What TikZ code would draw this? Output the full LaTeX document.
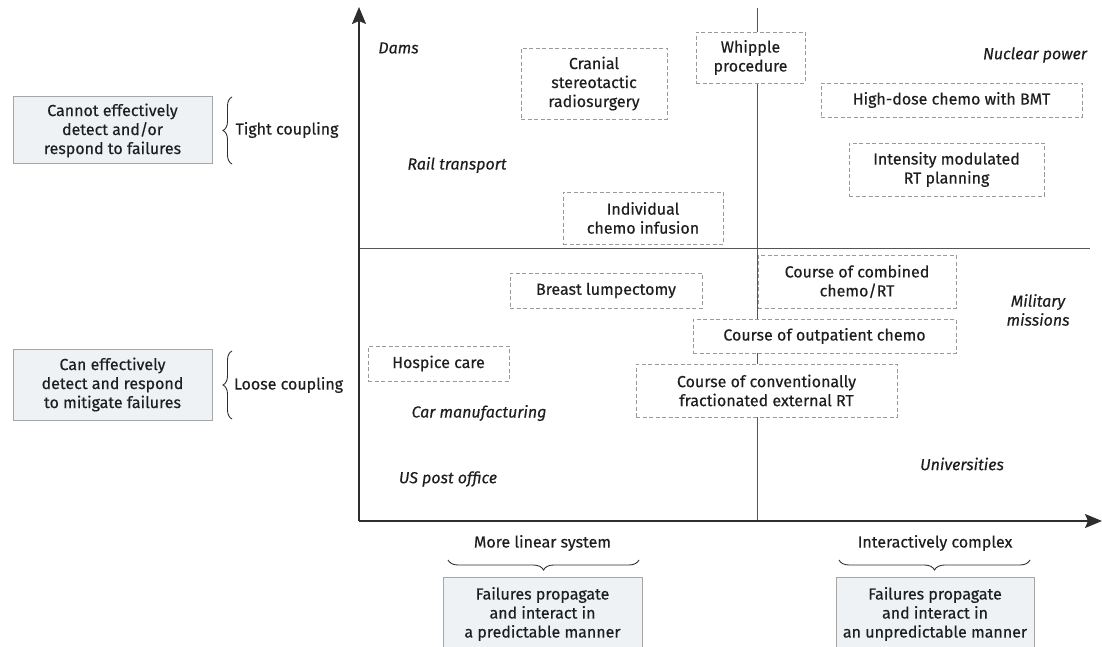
\documentclass[tikz,border=0pt]{standalone}
\usepackage{fontspec}
\setmainfont{Fira Sans}[FakeBold=0.35]
\usetikzlibrary{arrows.meta,decorations.pathreplacing}
\definecolor{axisc}{HTML}{2E2E2E}
\definecolor{divc}{HTML}{555555}
\definecolor{dashc}{HTML}{9A9A9A}
\definecolor{gboxc}{HTML}{A6A6A6}
\definecolor{gfill}{HTML}{EEF2F5}
\definecolor{txtc}{HTML}{1E1E1E}
\begin{document}
\begin{tikzpicture}[x=1pt,y=-1pt,
  every node/.style={text=txtc},
  base/.style={font=\fontsize{16}{19}\selectfont, inner sep=0pt, align=center},
  txt/.style={base},
  lab/.style={base, font=\fontsize{16}{19}\selectfont\itshape},
  dbox/.style={base, draw=dashc, dash pattern=on 4pt off 2.5pt, line width=0.9pt, fill=white},
  gbox/.style={base, draw=gboxc, line width=1pt, fill=gfill},
  axis/.style={draw=axisc, line width=1.6pt, -{Stealth[length=17pt,width=14pt,inset=3pt]}},
  divider/.style={draw=divc, line width=0.9pt},
  bracestyle/.style={draw=axisc, line width=0.9pt, decorate}
]
\useasboundingbox (0,0) rectangle (1102,647);

% axes and dividers
\coordinate (O) at (359,521);
\coordinate (ytip) at (359,7);
\coordinate (xtip) at (1102,521);
\coordinate (vtop) at (757.5,8);
\coordinate (vbot) at (757.5,521);
\coordinate (hl) at (359,248);
\coordinate (hr) at (1090,248);
\draw[divider] (vtop) -- (vbot);
\draw[divider] (hl) -- (hr);
\draw[axis] (O) -- (ytip);
\draw[axis] (O) -- (xtip);

% italic system labels
\node[lab] (dams) at (398.5,48) {Dams};
\node[lab] (nuclear) at (1035,55) {Nuclear power};
\node[lab] (rail) at (457,165) {Rail transport};
\node[lab] (military) at (1038,310) {Military\\missions};
\node[lab] (car) at (479,413) {Car manufacturing};
\node[lab] (post) at (448,479) {US post office};
\node[lab] (univ) at (962,464) {Universities};

% dashed procedure boxes
\node[dbox, minimum width=146pt, minimum height=71pt] (cranial) at (594,83.5) {Cranial\\stereotactic\\radiosurgery};
\node[dbox, minimum width=109pt, minimum height=51pt] (whipple) at (750.5,57.5) {Whipple\\procedure};
\node[dbox, minimum width=261pt, minimum height=34pt] (highdose) at (951.5,100) {High-dose chemo with BMT};
\node[dbox, minimum width=195pt, minimum height=53pt] (imrt) at (946.5,169.5) {Intensity modulated\\RT planning};
\node[dbox, minimum width=160pt, minimum height=52pt] (indiv) at (643,218) {Individual\\chemo infusion};
\node[dbox, minimum width=192pt, minimum height=35pt] (breast) at (606,290.5) {Breast lumpectomy};
\node[dbox, minimum width=198pt, minimum height=53pt] (combined) at (857,281.5) {Course of combined\\chemo/RT};
\node[dbox, minimum width=263pt, minimum height=34pt] (outpt) at (824.5,336) {Course of outpatient chemo};
\node[dbox, minimum width=261pt, minimum height=53pt] (conv) at (766.5,390.5) {Course of conventionally\\fractionated external RT};
\node[dbox, minimum width=141pt, minimum height=35pt] (hospice) at (438.5,363.5) {Hospice care};

% left side: coupling
\node[gbox, minimum width=199pt, minimum height=67pt] (cannot) at (112.5,130.5) {Cannot effectively\\detect and/or\\respond to failures};
\node[gbox, minimum width=199pt, minimum height=71pt] (can) at (112.5,384.5) {Can effectively\\detect and respond\\to mitigate failures};
\coordinate (tb1) at (232,164);
\coordinate (tb2) at (232,97);
\coordinate (lb1) at (232,419);
\coordinate (lb2) at (232,351);
\draw[bracestyle, decoration={brace, amplitude=9pt}] (tb1) -- (tb2);
\draw[bracestyle, decoration={brace, amplitude=9pt}] (lb1) -- (lb2);
\node[txt] (tight) at (287,130) {Tight coupling};
\node[txt] (loose) at (288.5,385) {Loose coupling};

% bottom: complexity
\node[txt] (linear) at (542.5,543) {More linear system};
\node[txt] (complex) at (935,543) {Interactively complex};
\coordinate (bl1) at (639,560);
\coordinate (bl2) at (448,560);
\coordinate (br1) at (1030,560);
\coordinate (br2) at (839,560);
\draw[bracestyle, decoration={brace, amplitude=10pt}] (bl1) -- (bl2);
\draw[bracestyle, decoration={brace, amplitude=10pt}] (br1) -- (br2);
\node[gbox, anchor=north, minimum width=199pt, minimum height=85pt] (predbox) at (542.5,577) {};
\node[gbox, anchor=north, minimum width=198pt, minimum height=85pt] (unpredbox) at (935,577) {};
\node[txt] (predtxt) at (542.5,614) {Failures propagate\\and interact in\\a predictable manner};
\node[txt] (unpredtxt) at (935,614) {Failures propagate\\and interact in\\an unpredictable manner};
\end{tikzpicture}
\end{document}
